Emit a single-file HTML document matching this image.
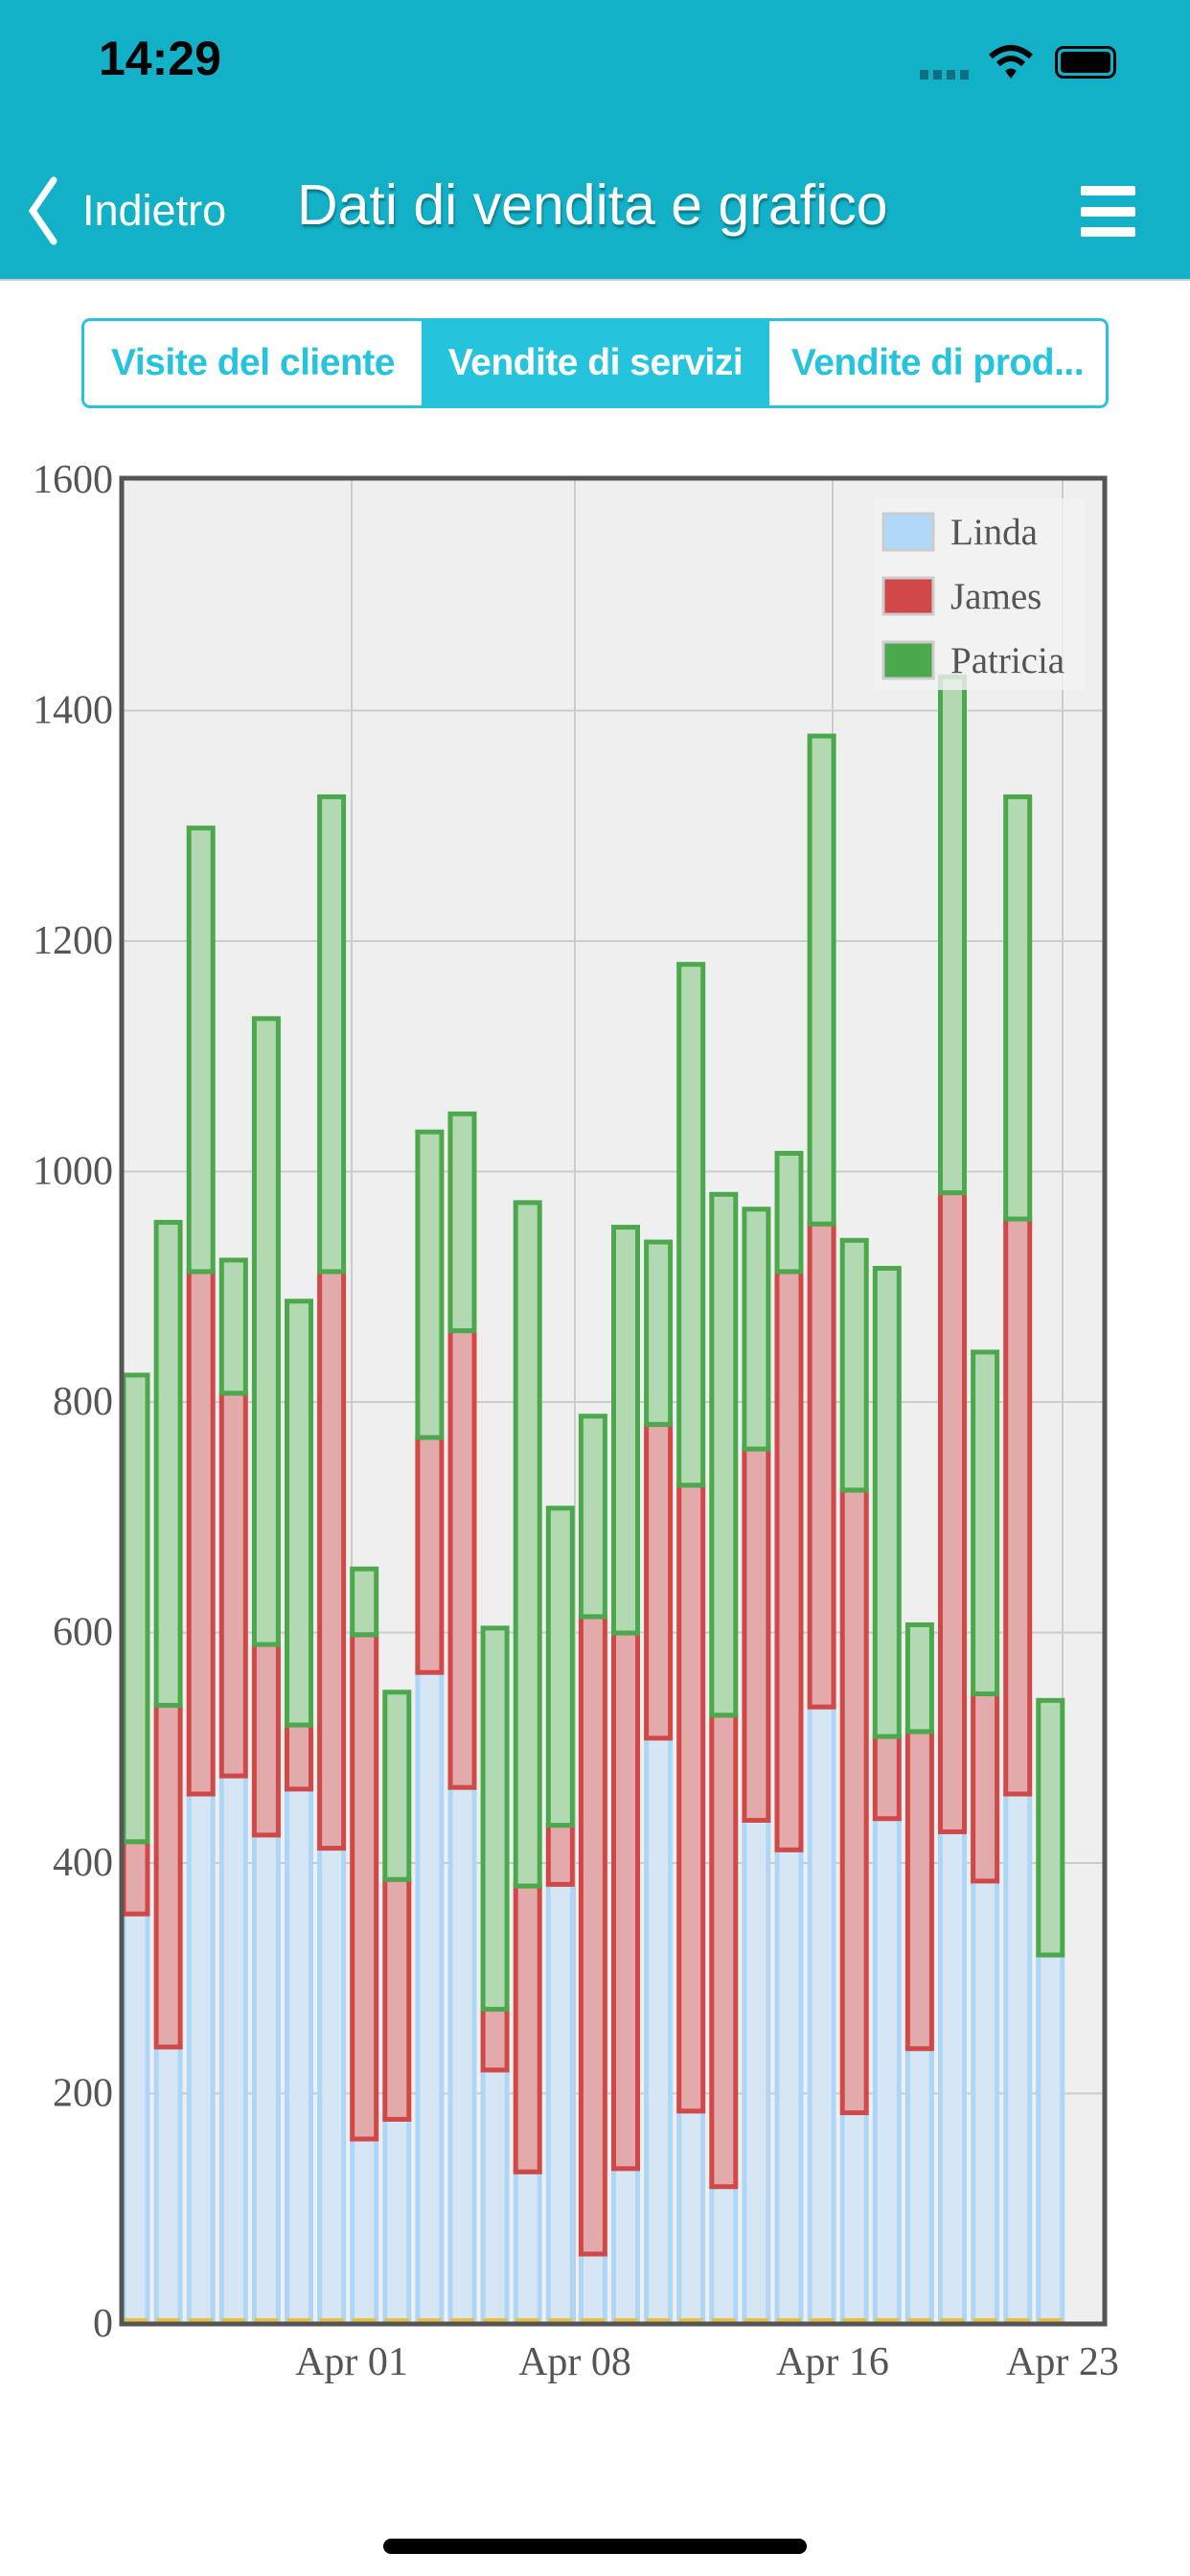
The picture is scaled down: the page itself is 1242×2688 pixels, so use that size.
<!DOCTYPE html>
<html><head><meta charset="utf-8"><style>
body{margin:0;width:1242px;height:2688px;background:#fff;overflow:hidden;font-family:"Liberation Sans",sans-serif;position:relative}
.hdr{position:absolute;left:0;top:0;width:1242px;height:291px;background:#13b1c8;border-bottom:2px solid #ccc}
.seg{position:absolute;left:85px;top:332px;width:1066px;height:88px;border:3px solid #26c4dc;border-radius:9px;display:flex;overflow:hidden}
.seg div{flex:none;display:flex;align-items:center;justify-content:center;font-size:39px;font-weight:bold;color:#26c4dc;white-space:nowrap;letter-spacing:-0.5px}
</style></head><body>
<div class="hdr">
<div style="position:absolute;left:103px;top:32px;font-size:50px;font-weight:bold;color:#000">14:29</div>
<div style="position:absolute;left:960px;top:73px;width:55px;height:10px;background:repeating-linear-gradient(90deg,#0d6f80 0 9px,transparent 9px 14px)"></div>
<svg style="position:absolute;left:1030px;top:45px" width="50" height="40" viewBox="0 0 50 40"><path d="M4 14 Q25 -4 46 14" stroke="#000" stroke-width="6" fill="none"/><path d="M12 22 Q25 10 38 22" stroke="#000" stroke-width="6" fill="none"/><path d="M19 29 L25 37 L31 29 Q25 24 19 29Z" fill="#000"/></svg>
<div style="position:absolute;left:1101px;top:48px;width:64px;height:34px;border:3px solid #000;border-radius:9px;box-sizing:border-box;padding:3px"><div style="width:100%;height:100%;background:#000;border-radius:4px"></div></div>
<svg style="position:absolute;left:26px;top:184px" width="40" height="72"><path d="M30 4 L8 36 L30 68" stroke="#fff" stroke-width="7" fill="none" stroke-linecap="round"/></svg>
<div style="position:absolute;left:86px;top:194px;font-size:45px;color:#fff">Indietro</div>
<div style="position:absolute;left:310px;top:180px;font-size:59px;color:#fff;text-shadow:1px 3px 2px #0a7788;white-space:nowrap">Dati di vendita e grafico</div>
<div style="position:absolute;left:1128px;top:194px;width:57px;height:10px;background:#fff;border-radius:2px"></div>
<div style="position:absolute;left:1128px;top:216px;width:57px;height:10px;background:#fff;border-radius:2px"></div>
<div style="position:absolute;left:1128px;top:237px;width:57px;height:10px;background:#fff;border-radius:2px"></div>
</div>
<div class="seg"><div style="width:352px">Visite del cliente</div><div style="width:363px;background:#26c4dc;color:#fff">Vendite di servizi</div><div style="width:351px">Vendite di prod...</div></div>
<svg id="ch" style="position:absolute;left:0;top:0" width="1242" height="2688" font-family="Liberation Serif,serif"></svg>
<div style="position:absolute;left:400px;top:2649px;width:442px;height:16px;background:#000;border-radius:8px"></div>
<script>
var s='';
var L=127,R=1153,T=499,B=2425;
s+='<rect x="'+L+'" y="'+T+'" width="'+(R-L)+'" height="'+(B-T)+'" fill="#efefef"/>';
for(var v=200;v<1600;v+=200){var y=B-v*1.2025;s+='<line x1="'+L+'" x2="'+R+'" y1="'+y+'" y2="'+y+'" stroke="#ccc" stroke-width="2"/>';}
[367,600,869,1109].forEach(function(x){s+='<line x1="'+x+'" x2="'+x+'" y1="'+T+'" y2="'+B+'" stroke="#ccc" stroke-width="2"/>';});
var d=[[1165,1121,837],[1246,1038,744],[1092,774,504],[1081,848,767],[1117,1001,620],[1089,1050,792],[1125,774,485],[1302,995,955],[1290,1144,1030],[1018,875,689],[1088,810,678],[1260,1223,991],[1322,1148,732],[1147,1111,918],[1372,984,862],[1320,994,747],[1058,867,756],[1285,904,587],[1331,1044,727],[1108,882,736],[1126,774,702],[1039,745,448],[1286,907,755],[1107,1057,772],[1247,1054,989],[1115,726,412],[1145,1031,823],[1092,742,485],[1190,1190,1035]];
var k=1.7143;
d.forEach(function(b,i){var x=127+i*34.1,w=29;var l=b[0]*k,j=b[1]*k,p=b[2]*k;
s+='<rect x="'+(x+2)+'" y="'+l+'" width="'+(w-4)+'" height="'+(B-l)+'" fill="#d6e6f4" stroke="#aed6f7" stroke-width="5"/>';
if(j<l-1)s+='<rect x="'+(x+2)+'" y="'+j+'" width="'+(w-4)+'" height="'+(l-j)+'" fill="#e2aaaa" stroke="#d04848" stroke-width="5"/>';
s+='<rect x="'+(x+2)+'" y="'+p+'" width="'+(w-4)+'" height="'+(j-p)+'" fill="#b3d9b3" stroke="#4ca84c" stroke-width="5"/>';
s+='<rect x="'+(x+2)+'" y="'+(B-6)+'" width="'+(w-4)+'" height="6" fill="#e8c040"/>';
});
s+='<rect x="'+L+'" y="'+T+'" width="'+(R-L)+'" height="'+(B-T)+'" fill="none" stroke="#555" stroke-width="5"/>';
for(var v=0;v<=1600;v+=200){var y=B-v*1.2025+13;s+='<text x="118" y="'+y+'" text-anchor="end" font-size="42" fill="#555">'+v+'</text>';}
[[367,'Apr 01'],[600,'Apr 08'],[869,'Apr 16'],[1109,'Apr 23']].forEach(function(a){s+='<text x="'+a[0]+'" y="2478" text-anchor="middle" font-size="42" fill="#555">'+a[1]+'</text>';});
s+='<rect x="912" y="520" width="220" height="200" fill="#f2f2f2" opacity="0.8"/>';
[['Linda','#b0d8f8','#ccc',555],['James','#d04848','#ccc',622],['Patricia','#4ca84c','#ccc',689]].forEach(function(a){s+='<rect x="922" y="'+(a[3]-19)+'" width="52" height="38" fill="'+a[1]+'" stroke="#ccc" stroke-width="3"/><text x="992" y="'+(a[3]+13)+'" font-size="39" fill="#555">'+a[0]+'</text>';});
document.getElementById('ch').innerHTML=s;
</script>
</body></html>
